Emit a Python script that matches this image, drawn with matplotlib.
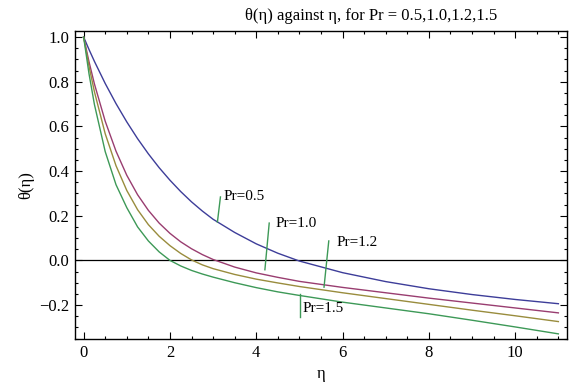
import numpy as np
import matplotlib.pyplot as plt
from matplotlib.ticker import MultipleLocator, FixedLocator

plt.rcParams['font.family'] = ['Liberation Serif', 'DejaVu Serif']

# values
eta = [0, 0.125, 0.25, 0.5, 0.75, 1.0, 1.25, 1.5, 1.75, 2.0, 2.25, 2.5, 2.75,
       3.0, 3.5, 4.0, 4.5, 5.0, 6.0, 7.0, 8.0, 9.0, 10.0, 11.0]
theta_05 = [1.0, 0.944, 0.891, 0.792, 0.702, 0.620, 0.545, 0.477, 0.415, 0.359,
            0.308, 0.262, 0.221, 0.184, 0.125, 0.074, 0.032, -0.003,
            -0.055, -0.095, -0.127, -0.153, -0.175, -0.194]
theta_10 = [1.0, 0.889, 0.790, 0.623, 0.489, 0.381, 0.294, 0.224, 0.167, 0.121,
            0.083, 0.052, 0.026, 0.004, -0.030, -0.056, -0.076, -0.094,
            -0.121, -0.145, -0.169, -0.191, -0.213, -0.235]
theta_12 = [1.0, 0.869, 0.755, 0.567, 0.424, 0.313, 0.227, 0.160, 0.108, 0.066,
            0.031, 0.002, -0.020, -0.037, -0.063, -0.084, -0.101, -0.117,
            -0.145, -0.171, -0.197, -0.223, -0.248, -0.274]
theta_15 = [1.0, 0.835, 0.698, 0.487, 0.339, 0.236, 0.150, 0.087, 0.038, 0.0,
            -0.025, -0.045, -0.061, -0.075, -0.100, -0.122, -0.141, -0.157,
            -0.187, -0.213, -0.239, -0.268, -0.298, -0.329]

labels = ['Pr=0.5', 'Pr=1.0', 'Pr=1.2', 'Pr=1.5']
colors = ['#3d3d99', '#993d70', '#998c3d', '#3d9957']
# callout lines: (x0, y0, x1, y1) and text anchor
callouts = [(3.10, 0.172, 3.17, 0.284), (4.20, -0.042, 4.30, 0.167),
            (5.57, -0.12, 5.68, 0.087), (5.01, -0.15, 5.01, -0.255)]
text_pos = [(3.24, 0.287), (4.45, 0.167), (5.85, 0.081), (5.08, -0.217)]

fig = plt.figure(figsize=(5.71, 3.85), dpi=100)
ax = fig.add_axes([75 / 571, 46 / 385, 492 / 571, 308 / 385])

ax.axhline(0, color='black', lw=0.9, zorder=1)
for y, c in zip([theta_05, theta_10, theta_12, theta_15], colors):
    ax.plot(eta, y, color=c, lw=1.0, zorder=2)

for (x0, y0, x1, y1), (tx, ty), lab in zip(callouts, text_pos, labels):
    ax.plot([x0, x1], [y0, y1], color='#3d9957', lw=1.0)
    ax.text(tx, ty, lab, fontsize=11, ha='left', va='center')

ax.set_xlim(-0.2, 11.2)
ax.set_ylim(-0.352, 1.027)
ax.xaxis.set_major_locator(MultipleLocator(2))
ax.xaxis.set_minor_locator(MultipleLocator(0.5))
ax.yaxis.set_major_locator(FixedLocator([-0.2, 0.0, 0.2, 0.4, 0.6, 0.8, 1.0]))
ax.yaxis.set_minor_locator(MultipleLocator(0.05))
ax.set_yticklabels(['\u22120.2', '0.0', '0.2', '0.4', '0.6', '0.8', '1.0'])
ax.tick_params(which='both', direction='in', top=True, right=True,
               labelsize=12, width=0.8)
ax.tick_params(which='major', length=5, pad=4)
ax.tick_params(which='minor', length=2.5)
for s in ax.spines.values():
    s.set_linewidth(1.0)

ax.set_xlabel('\u03b7', fontsize=12)
ax.set_ylabel('\u03b8(\u03b7)', fontsize=12)
fig.text(497 / 571, 365 / 385, '\u03b8(\u03b7) against \u03b7, for Pr = 0.5,1.0,1.2,1.5',
         fontsize=12, ha='right', va='baseline')

fig.savefig('out.png', dpi=100)
